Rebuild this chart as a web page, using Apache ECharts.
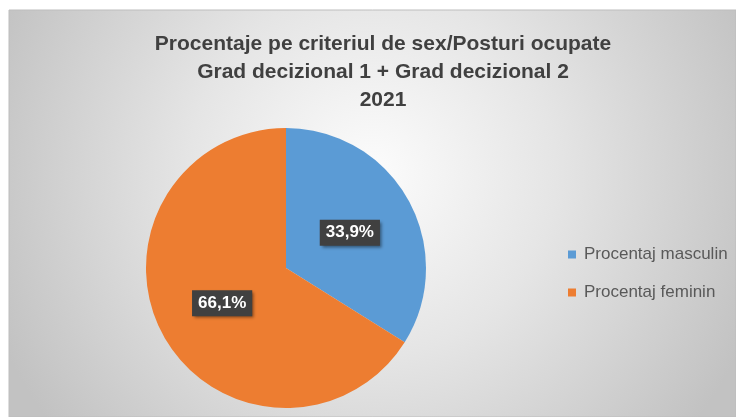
<!DOCTYPE html>
<html>
<head>
<meta charset="utf-8">
<style>
  html, body { margin: 0; padding: 0; background: #ffffff; }
  #chart { width: 736px; height: 417px; }
</style>
<script src="https://cdn.jsdelivr.net/npm/echarts@6/dist/echarts.min.js"></script>
</head>
<body>
<div id="chart"></div>
<script>
// Share of occupied posts by sex, decision levels 1 + 2, year 2021
const titleLines = [
  'Procentaje pe criteriul de sex/Posturi ocupate',
  'Grad decizional 1 + Grad decizional 2',
  '2021'
];
const categories = ['Procentaj masculin', 'Procentaj feminin'];
const percentValues = [33.9, 66.1];
const sliceColors = ['#5b9bd5', '#ed7d31'];

const chart = echarts.init(document.getElementById('chart'), null, { renderer: 'canvas' });

const fontFamily = '"Liberation Sans", Arial, sans-serif';

chart.setOption({
  animation: false,
  graphic: [
    {
      type: 'rect',
      silent: true,
      z: -10,
      shape: { x: 9, y: 10, width: 727, height: 407 },
      style: {
        fill: {
          type: 'radial',
          x: 0.5, y: 0.4, r: 1.0,
          colorStops: [
            { offset: 0, color: '#fcfcfc' },
            { offset: 0.45, color: '#e5e5e5' },
            { offset: 1, color: '#c2c2c2' }
          ]
        },
        stroke: '#bdbdbd',
        lineWidth: 1
      }
    }
  ],
  title: {
    text: titleLines.join('\n'),
    left: 378,
    textAlign: 'center',
    top: 25,
    textStyle: {
      fontFamily: fontFamily,
      fontWeight: 'bold',
      fontSize: 21,
      lineHeight: 28,
      color: '#404040'
    }
  },
  legend: {
    orient: 'vertical',
    left: 563,
    top: 241,
    itemWidth: 8,
    itemHeight: 8,
    itemGap: 21,
    icon: 'rect',
    textStyle: {
      fontFamily: fontFamily,
      fontSize: 17,
      color: '#595959',
      padding: [0, 0, 0, 3]
    },
    data: categories
  },
  series: [
    {
      type: 'pie',
      center: [286, 268],
      radius: [0, 140],
      startAngle: 90,
      clockwise: true,
      avoidLabelOverlap: false,
      label: {
        show: true,
        position: 'inside',
        formatter: function (p) {
          return p.value.toFixed(1).replace('.', ',') + '%';
        },
        fontFamily: fontFamily,
        fontWeight: 'bold',
        fontSize: 17,
        color: '#ffffff',
        backgroundColor: '#404040',
        padding: [5, 6, 4, 6],
        shadowColor: 'rgba(0,0,0,0.45)',
        shadowBlur: 3,
        shadowOffsetX: 2,
        shadowOffsetY: 2
      },
      labelLine: { show: false },
      emphasis: { disabled: true },
      data: categories.map(function (name, i) {
        return { name: name, value: percentValues[i], itemStyle: { color: sliceColors[i] } };
      })
    }
  ]
});
</script>
</body>
</html>
